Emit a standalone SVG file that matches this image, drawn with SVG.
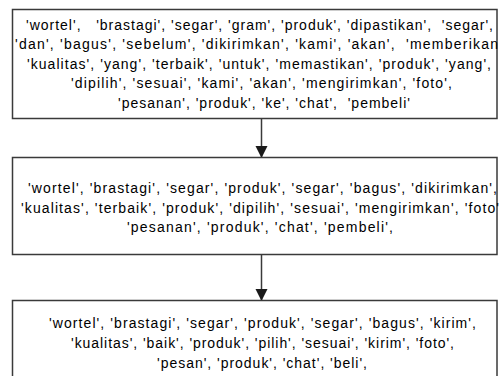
<svg xmlns="http://www.w3.org/2000/svg" width="499" height="376" viewBox="0 0 499 376">
<style>
.box{fill:#fff;stroke:#3a3a3a;stroke-width:1.5}
.t{font-family:"Liberation Sans",Arial,sans-serif;font-size:14px;fill:#000;white-space:pre}
.c{stroke:#3a3a3a;stroke-width:1.5;fill:none}
</style>
<defs>
<marker id="ah" markerWidth="12" markerHeight="13" refX="11" refY="6" orient="auto" markerUnits="userSpaceOnUse">
<path d="M0,0 L12,6 L0,12 Z" fill="#1a1a1a"/>
</marker>
</defs>
<rect width="499" height="376" fill="#fff"/>
<g id="connectors">
<line class="c" x1="261.5" y1="118.5" x2="261.5" y2="157" marker-end="url(#ah)"/>
<line class="c" x1="261.5" y1="254.5" x2="261.5" y2="300" marker-end="url(#ah)"/>
</g>
<g id="node1">
<rect class="box" x="12.5" y="9.5" width="484.5" height="109"/>
<text class="t" xml:space="preserve" x="26" y="30" textLength="467" lengthAdjust="spacing">'wortel',   'brastagi', 'segar', 'gram', 'produk', 'dipastikan',  'segar',</text>
<text class="t" xml:space="preserve" x="15" y="49.4" textLength="483" lengthAdjust="spacing">'dan', 'bagus', 'sebelum', 'dikirimkan', 'kami', 'akan',  'memberikan</text>
<text class="t" xml:space="preserve" x="27" y="68.8" textLength="464" lengthAdjust="spacing">'kualitas', 'yang', 'terbaik', 'untuk', 'memastikan', 'produk', 'yang',</text>
<text class="t" xml:space="preserve" x="71" y="88.2" textLength="381" lengthAdjust="spacing">'dipilih', 'sesuai', 'kami', 'akan', 'mengirimkan', 'foto',</text>
<text class="t" xml:space="preserve" x="118" y="107.6" textLength="292" lengthAdjust="spacing">'pesanan', 'produk', 'ke', 'chat',  'pembeli'</text>
</g>
<g id="node2">
<rect class="box" x="12.5" y="157.5" width="484.5" height="97"/>
<text class="t" xml:space="preserve" x="28" y="193" textLength="469" lengthAdjust="spacing">'wortel', 'brastagi', 'segar', 'produk', 'segar', 'bagus', 'dikirimkan',</text>
<text class="t" xml:space="preserve" x="21" y="212.5" textLength="478" lengthAdjust="spacing">'kualitas', 'terbaik', 'produk', 'dipilih', 'sesuai', 'mengirimkan', 'foto'</text>
<text class="t" xml:space="preserve" x="127" y="232" textLength="266" lengthAdjust="spacing">'pesanan', 'produk', 'chat', 'pembeli',</text>
</g>
<g id="node3">
<rect class="box" x="12.5" y="300.5" width="484.5" height="90"/>
<text class="t" xml:space="preserve" x="49" y="328" textLength="427" lengthAdjust="spacing">'wortel', 'brastagi', 'segar', 'produk', 'segar', 'bagus', 'kirim',</text>
<text class="t" xml:space="preserve" x="71" y="348" textLength="383" lengthAdjust="spacing">'kualitas', 'baik', 'produk', 'pilih', 'sesuai', 'kirim', 'foto',</text>
<text class="t" xml:space="preserve" x="157" y="368" textLength="210" lengthAdjust="spacing">'pesan', 'produk', 'chat', 'beli',</text>
</g>
</svg>
